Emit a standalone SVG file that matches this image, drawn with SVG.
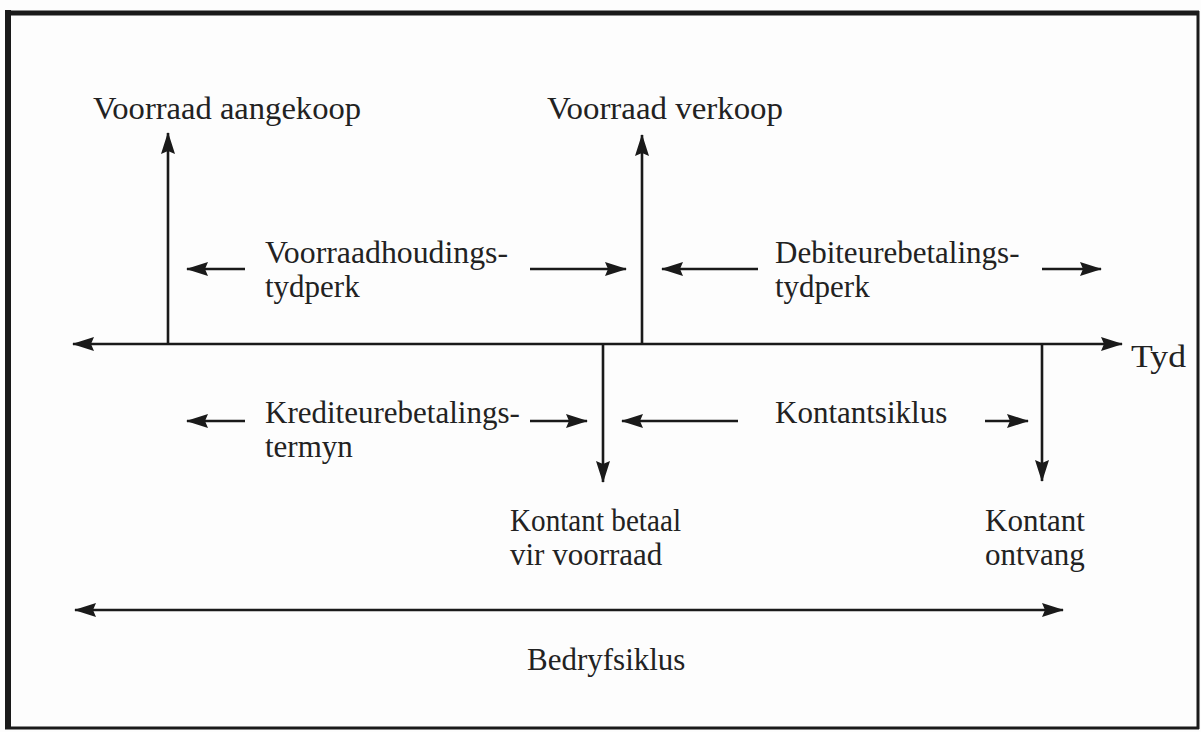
<svg xmlns="http://www.w3.org/2000/svg" width="1201" height="732" viewBox="0 0 1201 732">
  <defs>
    <marker id="ah" markerUnits="userSpaceOnUse" markerWidth="22" markerHeight="16" refX="21" refY="8" orient="auto-start-reverse" viewBox="0 0 22 16">
      <path d="M0,1 L22,8 L0,15 L3,8 z" fill="#1a1a1a"/>
    </marker>
  </defs>
  <style>
    .t { font-family: "Liberation Serif", "Times New Roman", serif; font-size: 31px; fill: #222222; }
    .ln { stroke: #1a1a1a; stroke-width: 2.6; fill: none; }
    .arr { marker-end: url(#ah); }
    .arr2 { marker-start: url(#ah); marker-end: url(#ah); }
  </style>
  <rect x="0" y="0" width="1201" height="732" fill="#fdfdfd"/>
  <g id="frame" stroke="#1a1a1a" fill="none">
    <line x1="8" y1="10" x2="8" y2="729" stroke-width="6"/>
    <line x1="5" y1="13" x2="1199" y2="13" stroke-width="5"/>
    <line x1="1198" y1="11" x2="1198" y2="729" stroke-width="3"/>
    <line x1="5" y1="728" x2="1199" y2="728" stroke-width="3"/>
  </g>
  <g id="connectors">
    <line class="ln arr2" x1="73" y1="344" x2="1122" y2="344"/>
    <line class="ln arr" x1="168" y1="344" x2="168" y2="133"/>
    <line class="ln arr" x1="642" y1="344" x2="642" y2="135"/>
    <line class="ln arr" x1="603" y1="344" x2="603" y2="482"/>
    <line class="ln arr" x1="1042" y1="344" x2="1042" y2="481"/>
    <line class="ln arr" x1="245" y1="269" x2="187" y2="269"/>
    <line class="ln arr" x1="530" y1="269" x2="626" y2="269"/>
    <line class="ln arr" x1="758" y1="269" x2="662" y2="269"/>
    <line class="ln arr" x1="1042" y1="269" x2="1101" y2="269"/>
    <line class="ln arr" x1="245" y1="421" x2="187" y2="421"/>
    <line class="ln arr" x1="530" y1="421" x2="587" y2="421"/>
    <line class="ln arr" x1="738" y1="421" x2="622" y2="421"/>
    <line class="ln arr" x1="985" y1="421" x2="1028" y2="421"/>
    <line class="ln arr2" x1="75" y1="610" x2="1063" y2="610"/>
  </g>
  <g id="voorraad-aangekoop"><text class="t" x="93" y="119" textLength="268" lengthAdjust="spacingAndGlyphs">Voorraad aangekoop</text></g>
  <g id="voorraad-verkoop"><text class="t" x="547" y="119" textLength="236" lengthAdjust="spacingAndGlyphs">Voorraad verkoop</text></g>
  <g id="voorraadhoudingstydperk"><text class="t" x="265" y="263" textLength="243" lengthAdjust="spacingAndGlyphs">Voorraadhoudings-</text><text class="t" x="265" y="297">tydperk</text></g>
  <g id="debiteurebetalingstydperk"><text class="t" x="775" y="263">Debiteurebetalings-</text><text class="t" x="775" y="297">tydperk</text></g>
  <g id="tyd"><text class="t" x="1131" y="367" textLength="55" lengthAdjust="spacingAndGlyphs">Tyd</text></g>
  <g id="krediteurebetalingstermyn"><text class="t" x="265" y="423">Krediteurebetalings-</text><text class="t" x="265" y="457">termyn</text></g>
  <g id="kontantsiklus"><text class="t" x="775" y="423">Kontantsiklus</text></g>
  <g id="kontant-betaal"><text class="t" x="510" y="531" textLength="171" lengthAdjust="spacingAndGlyphs">Kontant betaal</text><text class="t" x="510" y="565">vir voorraad</text></g>
  <g id="kontant-ontvang"><text class="t" x="985" y="531">Kontant</text><text class="t" x="985" y="565">ontvang</text></g>
  <g id="bedryfsiklus"><text class="t" x="527" y="670">Bedryfsiklus</text></g>
</svg>
